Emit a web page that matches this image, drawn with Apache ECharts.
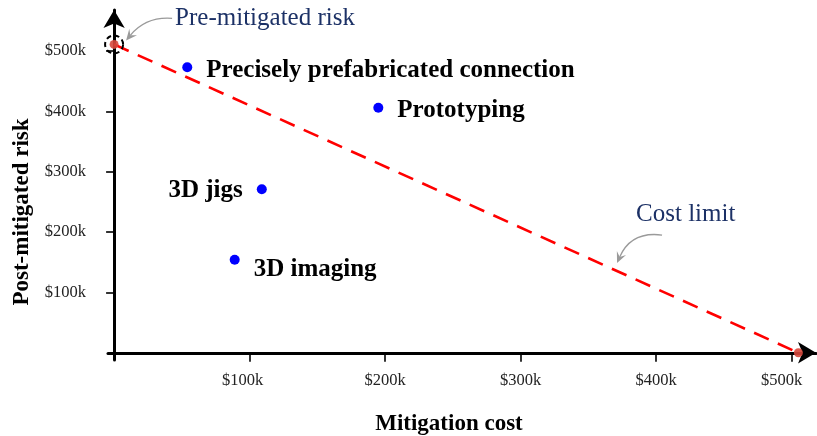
<!DOCTYPE html>
<html>
<head>
<meta charset="utf-8">
<script src="https://cdn.jsdelivr.net/npm/echarts@6/dist/echarts.min.js"></script>
<style>
  html, body { margin: 0; padding: 0; background: #fff; }
  #chart { width: 817px; height: 436px; }
</style>
</head>
<body>
<div id="chart"></div>
<script>
// Mitigation options: cost (k$) vs. remaining risk (k$)
const optionNames = ['Precisely prefabricated connection', 'Prototyping', '3D jigs', '3D imaging'];
const optionCost = [54, 195, 109, 89];
const optionRisk = [473, 406, 271, 154];

// Cost limit line: from the pre-mitigated risk down to zero risk
const limitCost = [0, 505];
const limitRisk = [511, 0];

// Axis tick values (k$)
const costTicks = [100, 200, 300, 400, 500];
const riskTicks = [100, 200, 300, 400, 500];

// ---- styling ----
const SERIF = "'Liberation Serif', 'Times New Roman', serif";
const NAVY = '#1c3166';
const GREY = '#9a9a9a';

// label placement per option: [side, dy]
const labelPlace = {
  'Precisely prefabricated connection': ['right', 3],
  'Prototyping': ['right', 3],
  '3D jigs': ['left', 1],
  '3D imaging': ['right', 10]
};
// small leftward nudges for some cost tick labels
const costLabelNudge = { 100: 14, 500: 20 };

const chart = echarts.init(document.getElementById('chart'), null, { renderer: 'canvas' });

const money = v => '$' + v + 'k';

const option = {
  animation: false,
  backgroundColor: '#fff',
  grid: { left: 108, right: 1, top: 10, bottom: 76, containLabel: false, outerBoundsMode: 'none' },
  xAxis: {
    type: 'value',
    min: -4.5,
    max: 518,
    name: 'Mitigation cost',
    nameLocation: 'middle',
    nameGap: 53,
    nameTextStyle: { fontFamily: SERIF, fontWeight: 'bold', fontSize: 23, color: '#000', padding: [0, 26, 0, 0] },
    axisLine: { onZero: true, lineStyle: { color: '#000', width: 3 }, symbol: ['none', 'arrow'], symbolSize: [16, 18] },
    axisTick: { show: true, customValues: costTicks, length: 9, lineStyle: { color: '#000', width: 1.6 } },
    axisLabel: {
      customValues: costTicks,
      margin: 12,
      fontFamily: SERIF, fontSize: 16.5, color: '#222',
      formatter: v => costLabelNudge[v] ? '{n' + v + '|' + money(v) + '}' : money(v),
      rich: Object.fromEntries(Object.keys(costLabelNudge).map(k => ['n' + k, {
        fontFamily: SERIF, fontSize: 16.5, color: '#222', padding: [0, costLabelNudge[k], 0, 0]
      }]))
    },
    splitLine: { show: false }
  },
  yAxis: {
    type: 'value',
    min: -12,
    max: 568,
    name: 'Post-mitigated risk',
    nameLocation: 'middle',
    nameGap: 70,
    nameTextStyle: { fontFamily: SERIF, fontWeight: 'bold', fontSize: 23, color: '#000', padding: [0, 54, 0, 0] },
    axisLine: { onZero: true, lineStyle: { color: '#000', width: 3 }, symbol: ['none', 'arrow'], symbolSize: [16, 18] },
    axisTick: { show: true, customValues: riskTicks, length: 8, lineStyle: { color: '#000', width: 1.6 } },
    axisLabel: {
      customValues: riskTicks,
      margin: 22,
      fontFamily: SERIF, fontSize: 16.5, color: '#222',
      formatter: money
    },
    splitLine: { show: false }
  },
  series: [
    {
      name: 'Cost limit',
      type: 'line',
      data: limitCost.map((c, i) => [c, limitRisk[i]]),
      showSymbol: false,
      lineStyle: { color: '#ff0000', width: 2.6, type: [16, 10] },
      z: 2,
      silent: true
    },
    {
      name: 'Limit ends',
      type: 'scatter',
      data: limitCost.map((c, i) => [c, limitRisk[i]]),
      symbolSize: 9,
      itemStyle: { color: 'rgb(214, 72, 60)', opacity: 0.9 },
      z: 3,
      silent: true
    },
    {
      name: 'Pre-mitigated risk',
      type: 'scatter',
      data: [[limitCost[0], limitRisk[0]]],
      symbolSize: 18,
      itemStyle: { color: 'rgba(0,0,0,0)', borderColor: '#000', borderWidth: 2, borderType: [5, 3.5], opacity: 1 },
      z: 4,
      silent: true
    },
    {
      name: 'Options',
      type: 'scatter',
      data: optionNames.map((n, i) => ({
        name: n,
        value: [optionCost[i], optionRisk[i]],
        label: {
          show: true,
          position: labelPlace[n][0],
          distance: 14,
          offset: [0, labelPlace[n][1]],
          formatter: '{b}',
          fontFamily: SERIF,
          fontWeight: 'bold',
          fontSize: 25,
          color: '#000'
        }
      })),
      symbolSize: 10,
      itemStyle: { color: '#0000ff', opacity: 1 },
      z: 5,
      silent: true
    }
  ]
};

chart.setOption(option);

// ---- callout annotations (curved grey arrows with navy captions) ----
function curvedArrow(start, ctrl, tip) {
  const dx = tip[0] - ctrl[0], dy = tip[1] - ctrl[1];
  const len = Math.hypot(dx, dy);
  const ux = dx / len, uy = dy / len;
  const px = -uy, py = ux;
  const headLen = 11, headHalf = 5;
  const base = [tip[0] - ux * headLen, tip[1] - uy * headLen];
  const notch = [tip[0] - ux * headLen * 0.6, tip[1] - uy * headLen * 0.6];
  return [
    {
      type: 'bezierCurve',
      shape: { x1: start[0], y1: start[1], cpx1: ctrl[0], cpy1: ctrl[1], x2: notch[0], y2: notch[1] },
      style: { stroke: GREY, lineWidth: 1.3, fill: null },
      silent: true, z: 10
    },
    {
      type: 'polygon',
      shape: { points: [tip, [base[0] + px * headHalf, base[1] + py * headHalf], notch, [base[0] - px * headHalf, base[1] - py * headHalf]] },
      style: { fill: GREY, stroke: null },
      silent: true, z: 10
    }
  ];
}

function caption(text, x, y) {
  return {
    type: 'text',
    x: x, y: y,
    style: { text: text, fontFamily: SERIF, fontSize: 25, fill: NAVY, align: 'left', verticalAlign: 'middle' },
    silent: true, z: 10
  };
}

function drawCallouts() {
  // anchor: start of the cost limit line (pre-mitigated risk)
  const p0 = chart.convertToPixel({ gridIndex: 0 }, [limitCost[0], limitRisk[0]]);
  // anchor: a point along the cost limit line
  const t = 0.735;
  const pc = chart.convertToPixel({ gridIndex: 0 }, [
    limitCost[0] + (limitCost[1] - limitCost[0]) * t,
    limitRisk[0] + (limitRisk[1] - limitRisk[0]) * t
  ]);

  const elements = [];
  elements.push(...curvedArrow(
    [p0[0] + 58, p0[1] - 26],
    [p0[0] + 32, p0[1] - 28],
    [p0[0] + 12, p0[1] - 4]
  ));
  elements.push(caption('Pre-mitigated risk', p0[0] + 61, p0[1] - 26));

  elements.push(...curvedArrow(
    [pc[0] + 45, pc[1] - 36],
    [pc[0] + 14, pc[1] - 40],
    [pc[0] + 0, pc[1] - 8]
  ));
  elements.push(caption('Cost limit', pc[0] + 19, pc[1] - 57));

  chart.setOption({ graphic: { elements: elements } });
}

drawCallouts();
</script>
</body>
</html>
